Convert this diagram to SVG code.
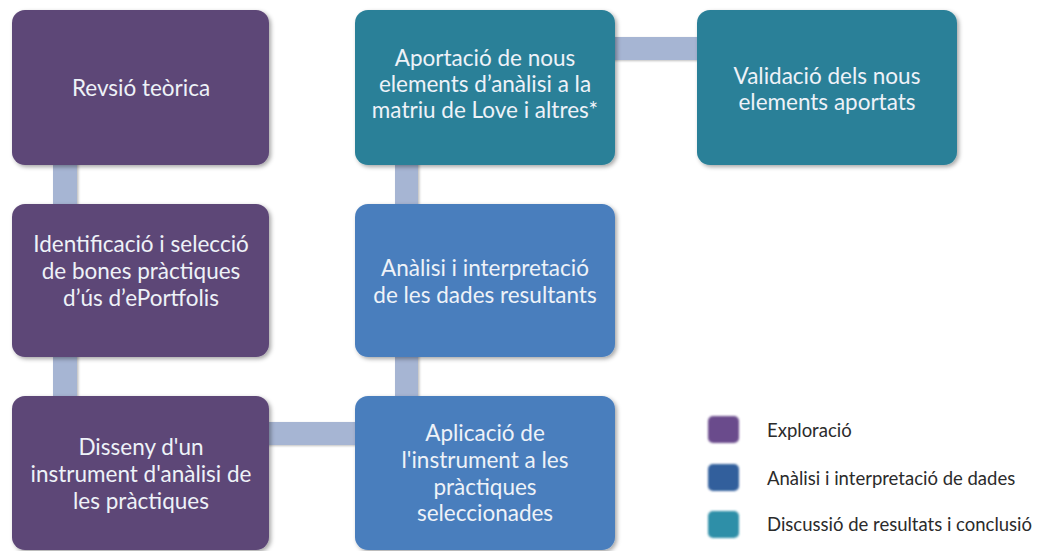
<svg xmlns="http://www.w3.org/2000/svg" width="1048" height="551" viewBox="0 0 1048 551">
<defs>
<filter id="sh" x="-10%" y="-10%" width="125%" height="125%">
<feDropShadow dx="2" dy="2" stdDeviation="2" flood-color="#000" flood-opacity="0.35"/>
</filter>
<filter id="shc" x="-20%" y="-20%" width="150%" height="150%">
<feDropShadow dx="1.5" dy="1" stdDeviation="1" flood-color="#000" flood-opacity="0.25"/>
</filter>
<filter id="soft" x="-20%" y="-20%" width="150%" height="150%">
<feGaussianBlur stdDeviation="0.8"/>
</filter>
</defs>
<style>
.box{filter:url(#sh)}
.p{fill:#5d4677}
.t{fill:#2b8098}
.b{fill:#4a7ebd}
.lbl{font-family:Lato,"Open Sans",sans-serif;font-size:22.5px;fill:#eef2f8;text-anchor:middle}
.con{fill:#a6b5d3;filter:url(#shc)}
.leg{font-family:Lato,"Open Sans",sans-serif;font-size:18.5px;fill:#2b2b2b}
</style>
<rect width="1048" height="551" fill="#ffffff"/>
<g id="connectors">
<rect class="con" x="53" y="160" width="24" height="50"/>
<rect class="con" x="53" y="352" width="24" height="50"/>
<rect class="con" x="264" y="422" width="97" height="23"/>
<rect class="con" x="395" y="160" width="23" height="50"/>
<rect class="con" x="395" y="352" width="23" height="50"/>
<rect class="con" x="610" y="37" width="93" height="23"/>
</g>
<g id="n1"><rect class="box p" x="12" y="10" width="257" height="155" rx="13"/>
<text class="lbl" x="141" y="96">Revsió teòrica</text></g>
<g id="n2"><rect class="box p" x="12" y="204" width="257" height="153" rx="13"/>
<text class="lbl" x="141" y="252">Identificació i selecció</text>
<text class="lbl" x="141" y="279">de bones pràctiques</text>
<text class="lbl" x="141" y="306">d’ús d’ePortfolis</text></g>
<g id="n3"><rect class="box p" x="12" y="396" width="257" height="154" rx="13"/>
<text class="lbl" x="141" y="455">Disseny d'un</text>
<text class="lbl" x="141" y="482">instrument d'anàlisi de</text>
<text class="lbl" x="141" y="509">les pràctiques</text></g>
<g id="n4"><rect class="box b" x="355" y="396" width="260" height="154" rx="13"/>
<text class="lbl" x="485" y="441">Aplicació de</text>
<text class="lbl" x="485" y="468">l'instrument a les</text>
<text class="lbl" x="485" y="495">pràctiques</text>
<text class="lbl" x="485" y="521">seleccionades</text></g>
<g id="n5"><rect class="box b" x="355" y="204" width="260" height="153" rx="13"/>
<text class="lbl" x="485" y="276">Anàlisi i interpretació</text>
<text class="lbl" x="485" y="303">de les dades resultants</text></g>
<g id="n6"><rect class="box t" x="355" y="10" width="260" height="155" rx="13"/>
<text class="lbl" x="485" y="66">Aportació de nous</text>
<text class="lbl" x="485" y="92">elements d’anàlisi a la</text>
<text class="lbl" x="485" y="118">matriu de Love i altres*</text></g>
<g id="n7"><rect class="box t" x="697" y="10" width="260" height="155" rx="13"/>
<text class="lbl" x="827" y="84">Validació dels nous</text>
<text class="lbl" x="827" y="110">elements aportats</text></g>
<g id="legend">
<rect x="708" y="416" width="31" height="27" rx="5" fill="#6b4b8c" filter="url(#soft)"/>
<text class="leg" x="767" y="437">Exploració</text>
<rect x="708" y="464" width="31" height="27" rx="5" fill="#305e9c" filter="url(#soft)"/>
<text class="leg" x="767" y="485">Anàlisi i interpretació de dades</text>
<rect x="708" y="511" width="31" height="27" rx="5" fill="#2f8fa8" filter="url(#soft)"/>
<text class="leg" x="767" y="531">Discussió de resultats i conclusió</text>
</g>
</svg>
